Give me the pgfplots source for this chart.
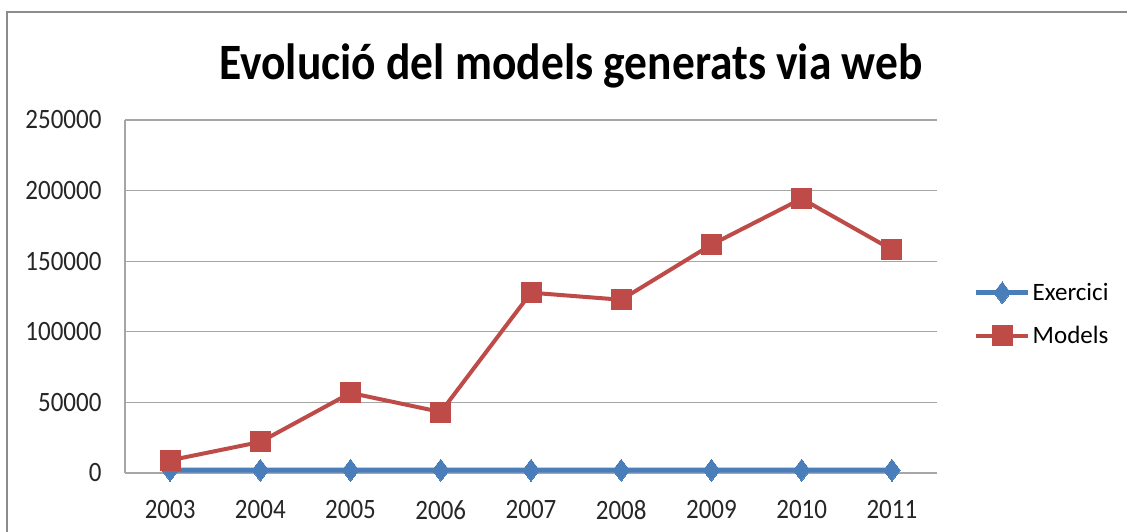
\documentclass[border=0pt]{standalone}
\usepackage{fontspec}
\setmainfont{Carlito}
\usepackage{pgfplots}
\pgfplotsset{compat=1.18}

\definecolor{exblue}{HTML}{4A7EBB}
\definecolor{modred}{HTML}{BE4B48}

\begin{document}
\begin{tikzpicture}[x=1pt,y=1pt]
\path[use as bounding box] (0,0) rectangle (1127,531);
\draw[gray!90, line width=2pt] (7,-5) |- (1135,519);
\node[font=\fontsize{45.5}{50}\selectfont\bfseries, yscale=1.12] at (571,465) {Evolució del models generats via web};
\begin{axis}[
  at={(125pt,58pt)}, anchor=south west,
  scale only axis, width=812pt, height=353pt,
  xmin=-0.5, xmax=8.5, ymin=0, ymax=250000,
  xtick={0,...,8},
  xticklabels={2003,2004,2005,2006,2007,2008,2009,2010,2011},
  ytick={0,50000,100000,150000,200000,250000},
  scaled y ticks=false,
  /pgf/number format/.cd, fixed, 1000 sep={}, assume math mode=true,
  /pgfplots/.cd,
  axis x line*=bottom, axis y line*=left,
  axis line style={draw=gray!70, line width=1.2pt, -},
  ymajorgrids, grid style={gray!70, line width=1.2pt},
  major tick length=0pt,
  tick label style={font=\fontsize{25}{30}\selectfont, text=black!85, yscale=1.12},
  yticklabel style={xshift=-20pt},
  xticklabel style={yshift=-21pt},
  legend style={at={(1.045,0.45)}, anchor=west, draw=none, fill=none,
    font=\fontsize{25}{30}\selectfont, row sep=20pt, inner sep=0pt},
  legend cell align=left,
  legend image code/.code={\draw[mark repeat=2, mark phase=2, #1] plot coordinates {(0pt,0pt) (26pt,0pt) (52pt,0pt)};},
]
\addplot[exblue, line width=5pt, mark=diamond*, mark size=11pt, mark options={solid, fill=exblue, line width=0pt}]
  coordinates {(0,2003) (1,2004) (2,2005) (3,2006) (4,2007) (5,2008) (6,2009) (7,2010) (8,2011)};
\addlegendentry{Exercici}
\addplot[modred, line width=4pt, mark=square*, mark size=10pt, mark options={solid, fill=modred, line width=0pt}]
  coordinates {(0,9000) (1,22000) (2,56700) (3,43200) (4,127700) (5,122700) (6,161700) (7,194300) (8,158200)};
\addlegendentry{Models}
\end{axis}
\end{tikzpicture}
\end{document}
